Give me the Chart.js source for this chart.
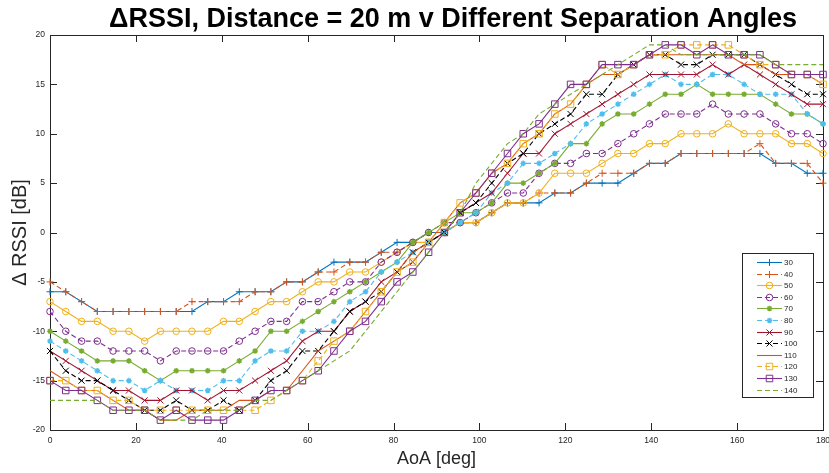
<!DOCTYPE html>
<html>
<head>
<meta charset="utf-8">
<script src="https://cdn.jsdelivr.net/npm/chart.js@4.4.1/dist/chart.umd.min.js"></script>
<style>
html,body{margin:0;padding:0;overflow:hidden;background:#fff;width:829px;height:473px}
#wrap{position:relative;width:840px;height:473px}
canvas{display:block}
</style>
</head>
<body>
<div id="wrap"><canvas id="c" width="840" height="473" style="width:840px;height:473px"></canvas></div>
<script>
// ---------- data ----------
const chartTitle = 'ΔRSSI, Distance = 20 m v Different Separation Angles';
const xTitle = 'AoA [deg]';
const yTitle = 'Δ RSSI [dB]';
const xTicks = [0, 20, 40, 60, 80, 100, 120, 140, 160, 180];
const yTicks = [-20, -15, -10, -5, 0, 5, 10, 15, 20];

const angles = [0, 3.67, 7.35, 11.02, 14.69, 18.37, 22.04, 25.71, 29.39, 33.06,
  36.73, 40.41, 44.08, 47.76, 51.43, 55.10, 58.78, 62.45, 66.12, 69.80,
  73.47, 77.14, 80.82, 84.49, 88.16, 91.84, 95.51, 99.18, 102.86, 106.53,
  110.20, 113.88, 117.55, 121.22, 124.90, 128.57, 132.24, 135.92, 139.59, 143.27,
  146.94, 150.61, 154.29, 157.96, 161.63, 165.31, 168.98, 172.65, 176.33, 180];

const seriesLabels = ['30', '40', '50', '60', '70', '80', '90', '100', '110', '120', '130', '140'];

const s30  = [-6,-6,-7,-8,-8,-8,-8,-8,-8,-8, -7,-7,-6,-6,-6,-5,-5,-4,-3,-3, -3,-2,-1,-1,0,0,1,1,2,3, 3,3,4,4,5,5,5,6,7,7, 8,8,8,8,8,8,7,7,6,6];
const s40  = [-5,-6,-7,-8,-8,-8,-8,-8,-8,-7, -7,-7,-7,-6,-6,-5,-5,-4,-4,-3, -3,-2,-2,-1,0,0,1,1,2,3, 3,4,4,4,5,6,6,6,7,7, 8,8,8,8,8,9,7,7,7,5];
const s50  = [-7,-8,-9,-9,-10,-10,-11,-10,-10,-10, -10,-9,-9,-8,-7,-7,-6,-5,-5,-4, -4,-3,-2,-1,-1,0,1,1,2,3, 3,4,6,6,6,7,8,8,9,9, 10,10,10,11,10,10,10,9,9,8];
const s60  = [-8,-10,-11,-11,-12,-12,-12,-13,-12,-12, -12,-12,-11,-10,-9,-9,-7,-7,-6,-5, -5,-3,-2,-1,0,1,1,2,3,4, 4,6,7,7,8,8,9,10,11,12, 12,12,13,12,12,12,11,10,10,9];
const s70  = [-10,-11,-12,-13,-13,-13,-14,-15,-14,-14, -14,-14,-13,-12,-10,-10,-9,-8,-7,-6, -5,-4,-3,-1,0,1,2,2,3,5, 5,6,7,9,9,11,12,12,13,14, 14,15,14,14,14,14,13,12,12,11];
const s80  = [-11,-12,-13,-14,-15,-15,-16,-15,-16,-16, -16,-15,-15,-13,-12,-12,-10,-10,-9,-7, -6,-4,-3,-2,-1,0,1,2,4,5, 7,7,8,9,11,12,13,14,15,16, 15,15,16,16,15,14,14,14,12,11];
const s90  = [-12,-13,-14,-15,-16,-16,-17,-17,-16,-16, -17,-16,-16,-15,-14,-13,-11,-10,-10,-8, -7,-5,-4,-3,-1,0,2,3,4,6, 8,8,10,11,12,13,14,15,16,16, 16,16,17,16,17,16,15,14,13,13];
const s100 = [-12,-14,-15,-15,-16,-17,-18,-18,-17,-18, -18,-17,-18,-17,-15,-14,-12,-12,-10,-8, -7,-6,-4,-2,-1,0,2,3,5,7, 8,10,11,12,14,14,16,17,18,18, 17,17,18,18,18,17,16,15,14,14];
const s110 = [-14,-15,-16,-16,-17,-18,-18,-19,-19,-18, -18,-18,-17,-17,-16,-16,-14,-12,-11,-10, -8,-6,-4,-2,-1,1,3,4,6,7, 9,10,12,13,15,16,16,17,18,18, 18,18,18,18,17,17,16,16,16,15];
const s120 = [-15,-15,-16,-16,-17,-17,-18,-18,-18,-18, -18,-18,-18,-18,-17,-16,-15,-13,-11,-10, -8,-6,-4,-3,-1,1,3,4,6,7, 9,10,12,13,15,17,16,17,18,18, 19,19,19,19,18,17,17,16,16,15];
const s130 = [-15,-16,-16,-17,-18,-18,-18,-19,-18,-19, -19,-19,-18,-17,-16,-16,-15,-14,-12,-10, -9,-7,-5,-4,-2,0,2,4,6,8, 10,11,13,15,15,17,17,17,18,19, 19,18,19,18,18,18,17,16,16,16];
const s140 = [-17,-17,-17,-17,-18,-18,-18,-19,-19,-19, -18,-18,-18,-17,-17,-16,-15,-14,-13,-12, -10,-8,-6,-4,-2,0,2,5,7,9, 10,12,13,14,15,16,17,18,19,19, 18,18,18,18,18,18,17,17,17,17];

const seriesValues = [s30, s40, s50, s60, s70, s80, s90, s100, s110, s120, s130, s140];

// ---------- styles ----------
const FONT = '"Liberation Sans", Arial, Helvetica, sans-serif';
const AXIS_COLOR = '#262626';
const colors  = ['#0072BD','#D95319','#EDB120','#7E2F8E','#77AC30','#4DBEEE','#A2142F','#000000','#D95319','#EDB120','#7E2F8E','#77AC30'];
const markers = ['cross','cross','circle','circle','star','star','crossRot','crossRot',null,'rect','rect',null];
const dashed  = [false,true,false,true,false,true,false,true,false,true,false,true];
const markerRadius = {cross:3.5, circle:3.3, star:2.8, crossRot:4.3, rect:4.6};
const markerWidth = {cross:1, circle:1, star:1.4, crossRot:1, rect:1};
const DASH = [5, 3];

Chart.defaults.font.family = FONT;

const datasets = seriesValues.map((vals, i) => ({
  label: seriesLabels[i],
  data: angles.map((a, k) => ({x: a, y: vals[k]})),
  borderColor: colors[i],
  backgroundColor: colors[i],
  borderWidth: 1.1,
  borderDash: dashed[i] ? DASH : [],
  pointStyle: markers[i] || 'circle',
  pointRadius: markers[i] ? markerRadius[markers[i]] : 0,
  pointHoverRadius: markers[i] ? markerRadius[markers[i]] : 0,
  pointBorderWidth: markers[i] ? markerWidth[markers[i]] : 1,
  pointBorderColor: colors[i],
  pointBackgroundColor: 'rgba(255,255,255,0)',
  tension: 0,
  fill: false,
  clip: false,
  order: seriesValues.length - 1 - i
}));

function drawMarker(ctx, style, x, y, r, color) {
  if (!style) return;
  ctx.save();
  ctx.strokeStyle = color; ctx.lineWidth = markerWidth[style]; ctx.setLineDash([]);
  ctx.beginPath();
  const d = r * Math.SQRT1_2;
  if (style === 'cross' || style === 'star') {
    ctx.moveTo(x - r, y); ctx.lineTo(x + r, y);
    ctx.moveTo(x, y - r); ctx.lineTo(x, y + r);
  }
  if (style === 'crossRot' || style === 'star') {
    ctx.moveTo(x - d, y - d); ctx.lineTo(x + d, y + d);
    ctx.moveTo(x - d, y + d); ctx.lineTo(x + d, y - d);
  }
  if (style === 'circle') ctx.arc(x, y, r, 0, Math.PI * 2);
  if (style === 'rect') ctx.rect(x - d, y - d, 2 * d, 2 * d);
  ctx.stroke();
  ctx.restore();
}

const framePlugin = {
  id: 'matlabFrame',
  beforeDatasetsDraw(chart) {
    const {ctx, chartArea: a, scales: {x, y}} = chart;
    ctx.save();
    ctx.strokeStyle = AXIS_COLOR;
    ctx.lineWidth = 1;
    ctx.strokeRect(Math.round(a.left) + 0.5, Math.round(a.top) + 0.5,
                   Math.round(a.right - a.left), Math.round(a.bottom - a.top));
    const tl = 7;
    ctx.beginPath();
    xTicks.forEach(v => {
      const px = Math.round(x.getPixelForValue(v)) + 0.5;
      ctx.moveTo(px, a.bottom); ctx.lineTo(px, a.bottom - tl);
      ctx.moveTo(px, a.top); ctx.lineTo(px, a.top + tl);
    });
    yTicks.forEach(v => {
      const py = Math.round(y.getPixelForValue(v)) + 0.5;
      ctx.moveTo(a.left, py); ctx.lineTo(a.left + tl, py);
      ctx.moveTo(a.right, py); ctx.lineTo(a.right - tl, py);
    });
    ctx.stroke();
    ctx.restore();
  },
  afterDraw(chart) {
    const ctx = chart.ctx;
    ctx.save();
    // chart title
    ctx.fillStyle = '#000';
    ctx.font = 'bold 27px ' + FONT;
    ctx.textAlign = 'center';
    ctx.textBaseline = 'alphabetic';
    ctx.fillText(chartTitle, 453, 27);

    // legend
    const lx = 742, ly = 253, lw = 71, lh = 144;
    ctx.fillStyle = '#fff';
    ctx.fillRect(lx, ly, lw, lh);
    ctx.strokeStyle = AXIS_COLOR;
    ctx.lineWidth = 1;
    ctx.strokeRect(lx + 0.5, ly + 0.5, lw, lh);
    ctx.font = '8px ' + FONT;
    ctx.textAlign = 'left';
    ctx.textBaseline = 'middle';
    chart.data.datasets.forEach((ds, i) => {
      const yy = Math.round(262 + i * 11.6) + 0.5;
      ctx.strokeStyle = ds.borderColor;
      ctx.lineWidth = 1.1;
      ctx.setLineDash(ds.borderDash || []);
      ctx.beginPath();
      ctx.moveTo(757, yy); ctx.lineTo(782, yy);
      ctx.stroke();
      ctx.setLineDash([]);
      if (markers[i]) drawMarker(ctx, markers[i], 769.5, yy, markerRadius[markers[i]], ds.borderColor);
      ctx.fillStyle = AXIS_COLOR;
      ctx.fillText(ds.label, 784, yy);
    });
    ctx.restore();
  }
};

new Chart(document.getElementById('c'), {
  type: 'line',
  data: {datasets},
  options: {
    responsive: false,
    animation: false,
    devicePixelRatio: window.devicePixelRatio || 1,
    layout: {padding: {left: 0, right: 17, top: 35, bottom: 0}},
    plugins: {legend: {display: false}, tooltip: {enabled: false}, title: {display: false}},
    scales: {
      x: {
        type: 'linear', min: 0, max: 180,
        afterBuildTicks: s => { s.ticks = xTicks.map(v => ({value: v})); },
        ticks: {color: AXIS_COLOR, font: {size: 8.5}, padding: 6, maxRotation: 0, autoSkip: false},
        grid: {display: false, drawTicks: false},
        border: {display: false},
        title: {display: true, text: xTitle, color: AXIS_COLOR, font: {size: 18}, padding: {top: 0, bottom: 3}},
        afterFit: s => { s.height = 43; }
      },
      y: {
        type: 'linear', min: -20, max: 20,
        afterBuildTicks: s => { s.ticks = yTicks.map(v => ({value: v})); },
        ticks: {color: AXIS_COLOR, font: {size: 8.5}, padding: 5, autoSkip: false},
        grid: {display: false, drawTicks: false},
        border: {display: false},
        title: {display: true, text: yTitle, color: AXIS_COLOR, font: {size: 20}, padding: {top: 8, bottom: 0}},
        afterFit: s => { s.width = 50; }
      }
    }
  },
  plugins: [framePlugin]
});
</script>
</body>
</html>
